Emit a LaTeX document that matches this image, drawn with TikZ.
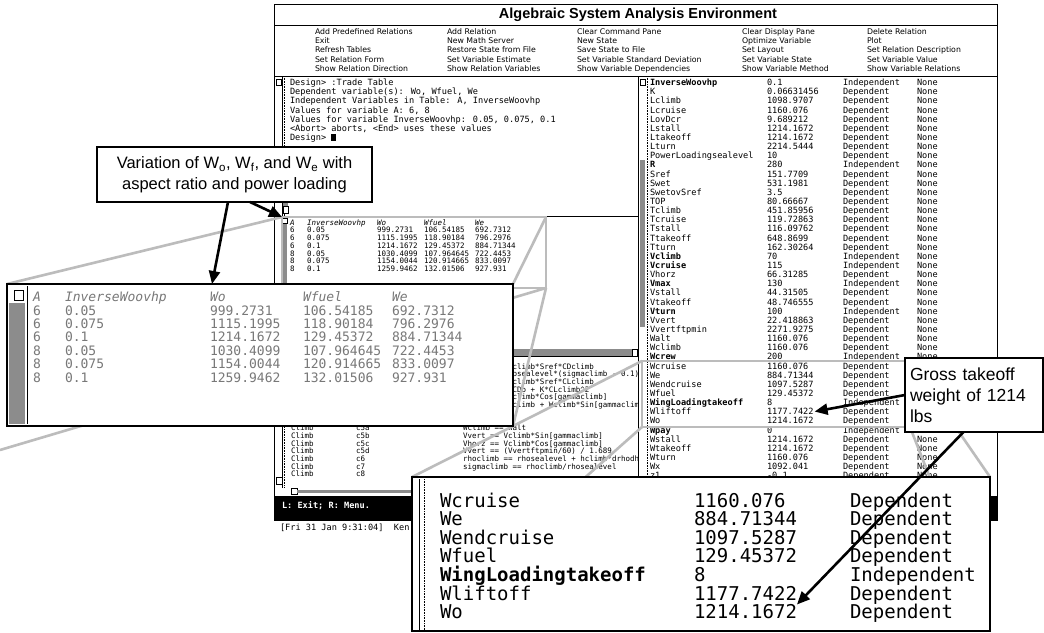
\documentclass[tikz,border=0pt]{standalone}
\usepackage{fontspec}
\setmainfont{Liberation Sans}
\newfontfamily\monofont{DejaVu Sans Mono}
\newfontfamily\uifont{DejaVu Sans}
\usetikzlibrary{arrows.meta}
\pgfdeclarelayer{winlayer}
\pgfdeclarelayer{guidelayer}
\pgfsetlayers{winlayer,guidelayer,main}

\definecolor{zoomgray}{RGB}{188,188,188}
\definecolor{thumbgray}{RGB}{140,140,140}
\definecolor{softtext}{RGB}{120,120,120}

% trade table results: A / InverseWoovhp / Wo / Wfuel / We
\def\tradedata{6/0.05/999.2731/106.54185/692.7312,
  6/0.075/1115.1995/118.90184/796.2976,
  6/0.1/1214.1672/129.45372/884.71344,
  8/0.05/1030.4099/107.964645/722.4453,
  8/0.075/1154.0044/120.914665/833.0097,
  8/0.1/1259.9462/132.01506/927.931}

\begin{document}
\begin{tikzpicture}[x=1pt,y=-1pt,
  every node/.style={inner sep=0pt,outer sep=0pt},
  winline/.style={draw=black,line width=0.9pt},
  thinline/.style={draw=black,line width=0.5pt},
  dotline/.style={draw=black,line width=0.4pt,dash pattern=on 0.8pt off 0.8pt},
  menuitem/.style={anchor=base west,font=\uifont\fontsize{7.8}{8}\selectfont},
  panetext/.style={anchor=base west,font=\monofont\fontsize{8.6}{9}\selectfont},
  smalltext/.style={anchor=base west,font=\monofont\fontsize{7.5}{8}\selectfont},
  smallhead/.style={anchor=base west,font=\monofont\itshape\fontsize{7.5}{8}\selectfont},
  magtable/.style={anchor=base west,font=\monofont\fontsize{13}{14}\selectfont,text=softtext},
  maghead/.style={anchor=base west,font=\monofont\itshape\fontsize{13}{14}\selectfont,text=softtext},
  magvars/.style={anchor=base west,font=\monofont\fontsize{19}{20}\selectfont},
  thumb/.style={fill=thumbgray},
  checkbox/.style={draw=black,line width=0.5pt,fill=white},
  zoomframe/.style={draw=zoomgray,line width=2.6pt},
  magbox/.style={draw=black,line width=2.6pt,fill=white},
  callout/.style={draw=black,line width=2pt,fill=white},
  pointer/.style={draw=black,line width=2.6pt,-{Triangle[length=13pt,width=11pt]}},
]
\useasboundingbox (0,0) rectangle (1044,632);

\begin{pgfonlayer}{winlayer}
\fill[white] (0,0) rectangle (1044,632);
% ---------- application window ----------
\draw[winline,fill=white] (274,4) rectangle (997,520);
\node[font=\bfseries\fontsize{14.5}{16}\selectfont] (title) at (638,15) {Algebraic System Analysis Environment};
\draw[winline] (274,25) -- (997,25);

% menu
\foreach \t [count=\i from 0] in {Add Predefined Relations,Exit,Refresh Tables,Set Relation Form,Show Relation Direction}
  \node[menuitem] (mA\i) at (315,34.5+9.2*\i) {\t};
\foreach \t [count=\i from 0] in {Add Relation,New Math Server,Restore State from File,Set Variable Estimate,Show Relation Variables}
  \node[menuitem] (mB\i) at (447,34.5+9.2*\i) {\t};
\foreach \t [count=\i from 0] in {Clear Command Pane,New State,Save State to File,Set Variable Standard Deviation,Show Variable Dependencies}
  \node[menuitem] (mC\i) at (577,34.5+9.2*\i) {\t};
\foreach \t [count=\i from 0] in {Clear Display Pane,Optimize Variable,Set Layout,Set Variable State,Show Variable Method}
  \node[menuitem] (mD\i) at (742,34.5+9.2*\i) {\t};
\foreach \t [count=\i from 0] in {Delete Relation,Plot,Set Relation Description,Set Variable Value,Show Variable Relations}
  \node[menuitem] (mE\i) at (867,34.5+9.2*\i) {\t};
\draw[winline] (274,76) -- (997,76);
\draw[winline] (638,76) -- (638,496);

% command pane
\draw[checkbox] (276,79) rectangle (281,85);
\draw[thinline] (282,76) -- (282,216);
\draw[dotline] (284.5,76) -- (284.5,216);
\foreach \t [count=\i from 0] in {{Design> :Trade Table},{Dependent variable(s): Wo, Wfuel, We},{Independent Variables in Table: A, InverseWoovhp},{Values for variable A: 6, 8},{Values for variable InverseWoovhp: 0.05, 0.075, 0.1},{<Abort> aborts, <End> uses these values}}
  \node[panetext] (cmd\i) at (290,85.7+9.14*\i) {\t};
\node[panetext] (cmd6) at (290,85.7+9.14*6) {Design> \rule{4.6pt}{7pt}};
\fill[thumb] (283,199) rectangle (288,206);
\draw[checkbox] (283,206) rectangle (288,213);
\draw[winline] (274,216) -- (638,216);

% table pane
\draw[checkbox] (282,218) rectangle (287,223);
\fill[thumb] (282,224) rectangle (287,284);
\node[smallhead] (thA) at (290,225.6) {A};
\node[smallhead] (thB) at (307,225.6) {InverseWoovhp};
\node[smallhead] (thC) at (377,225.6) {Wo};
\node[smallhead] (thD) at (424,225.6) {Wfuel};
\node[smallhead] (thE) at (475,225.6) {We};
\foreach \va/\vb/\vc/\vd/\ve [count=\i from 0] in \tradedata {
  \node[smalltext] (ta\i) at (290,232.6+7.8*\i) {\va};
  \node[smalltext] (tb\i) at (307,232.6+7.8*\i) {\vb};
  \node[smalltext] (tc\i) at (377,232.6+7.8*\i) {\vc};
  \node[smalltext] (td\i) at (424,232.6+7.8*\i) {\vd};
  \node[smalltext] (te\i) at (475,232.6+7.8*\i) {\ve};
}
\fill[thumb] (283,349) rectangle (632,356);
\draw[checkbox] (632,349) rectangle (637.5,356);
\draw[thinline] (274,356.5) -- (638,356.5);

% relations pane
\draw[thinline] (282,357) -- (282,488);
\draw[dotline] (284.5,357) -- (284.5,488);
\begin{scope}
  \clip (274,357) rectangle (637.5,488);
  \node[smalltext] (rel0) at (463,369.0) {Dclimb == qclimb*Sref*CDclimb};
  \node[smalltext] (rel1) at (463,376.7) {Pclimb == hpsealevel*(sigmaclimb - 0.1)};
  \node[smalltext] (rel2) at (463,384.4) {Lclimb == qclimb*Sref*CLclimb};
  \node[smalltext] (rel3) at (463,392.1) {CDclimb == CDo + K*CLclimb\^{}2};
  \node[smalltext] (rel4) at (463,399.8) {Lclimb == Wclimb*Cos[gammaclimb]};
  \node[smalltext] (rel5) at (463,407.5) {Tclimb == Dclimb + Wclimb*Sin[gammaclimb]};
  \foreach \cn/\fm [count=\i from 0] in {c5a/{Wclimb == Walt},c5b/{Vvert == Vclimb*Sin[gammaclimb]},c5c/{Vhorz == Vclimb*Cos[gammaclimb]},c5d/{Vvert == (Vvertftpmin/60) / 1.689},c6/{rhoclimb == rhosealevel + hclimb*drhodh},c7/{sigmaclimb == rhoclimb/rhosealevel}} {
    \node[smalltext] (cl\i) at (291,430.6+7.7*\i) {Climb};
    \node[smalltext] (cc\i) at (356,430.6+7.7*\i) {\cn};
    \node[smalltext] (cf\i) at (463,430.6+7.7*\i) {\fm};
  }
  \node[smalltext] (cl6) at (291,430.6+7.7*6) {Climb};
  \node[smalltext] (cc6) at (356,430.6+7.7*6) {c8};
\end{scope}
\draw[checkbox] (276,477) rectangle (282,484);
\draw[checkbox] (291,488) rectangle (297,494);
\fill[thumb] (297,489.5) rectangle (430,493);

% status bar and clock line
\fill[black] (274,496) rectangle (997,520);
\node[anchor=base west,font=\monofont\bfseries\fontsize{8.6}{9}\selectfont,text=white] (hint) at (282,508) {L: Exit; R: Menu.};
\node[panetext] (clock) at (280,530) {[Fri 31 Jan 9:31:04]\ \ Ken};

% variable display pane
\draw[checkbox] (640,79) rectangle (645,85);
\fill[thumb] (640,160) rectangle (645,327);
\draw[dotline] (647,76) -- (647,496);
\foreach \nm/\vl/\sta/\bw [count=\i from 0] in {
  InverseWoovhp/0.1/Independent/1, K/0.06631456/Dependent/0, Lclimb/1098.9707/Dependent/0,
  Lcruise/1160.076/Dependent/0, LovDcr/9.689212/Dependent/0, Lstall/1214.1672/Dependent/0,
  Ltakeoff/1214.1672/Dependent/0, Lturn/2214.5444/Dependent/0, PowerLoadingsealevel/10/Dependent/0,
  R/280/Independent/1, Sref/151.7709/Dependent/0, Swet/531.1981/Dependent/0,
  SwetovSref/3.5/Dependent/0, TOP/80.66667/Dependent/0, Tclimb/451.85956/Dependent/0,
  Tcruise/119.72863/Dependent/0, Tstall/116.09762/Dependent/0, Ttakeoff/648.8699/Dependent/0,
  Tturn/162.30264/Dependent/0, Vclimb/70/Independent/1, Vcruise/115/Independent/1,
  Vhorz/66.31285/Dependent/0, Vmax/130/Independent/1, Vstall/44.31505/Dependent/0,
  Vtakeoff/48.746555/Dependent/0, Vturn/100/Independent/1, Vvert/22.418863/Dependent/0,
  Vvertftpmin/2271.9275/Dependent/0, Walt/1160.076/Dependent/0, Wclimb/1160.076/Dependent/0,
  Wcrew/200/Independent/1, Wcruise/1160.076/Dependent/0, We/884.71344/Dependent/0,
  Wendcruise/1097.5287/Dependent/0, Wfuel/129.45372/Dependent/0, WingLoadingtakeoff/8/Independent/1,
  Wliftoff/1177.7422/Dependent/0, Wo/1214.1672/Dependent/0, Wpay/0/Independent/1,
  Wstall/1214.1672/Dependent/0, Wtakeoff/1214.1672/Dependent/0, Wturn/1160.076/Dependent/0,
  Wx/1092.041/Dependent/0, z1/-0.1/Dependent/0} {
  \node[panetext] (rn\i) at (650,85.7+9.14*\i) {\ifnum\bw=1 \bfseries\fi\nm};
  \node[panetext] (rv\i) at (767,85.7+9.14*\i) {\vl};
  \node[panetext] (rs\i) at (843,85.7+9.14*\i) {\sta};
  \ifnum\i<31 \node[panetext] (rx\i) at (917,85.7+9.14*\i) {None};\fi
  \ifnum\i>38 \node[panetext] (rx\i) at (917,85.7+9.14*\i) {None};\fi
}
\end{pgfonlayer}

% ---------- magnified table ----------
\node[magbox,anchor=north west,minimum width=506pt,minimum height=142pt] (lmag) at (7,284) {};
\draw[checkbox] (14,290) rectangle (23,300);
\fill[thumb] (9,303) rectangle (25,424);
\draw[thinline] (27.5,286) -- (27.5,424);
\node[maghead] (mhA) at (33,301.5) {A};
\node[maghead] (mhB) at (65,301.5) {InverseWoovhp};
\node[maghead] (mhC) at (210,301.5) {Wo};
\node[maghead] (mhD) at (303,301.5) {Wfuel};
\node[maghead] (mhE) at (392,301.5) {We};
\foreach \va/\vb/\vc/\vd/\ve [count=\i from 0] in \tradedata {
  \node[magtable] (ma\i) at (33,315+13.4*\i) {\va};
  \node[magtable] (mb\i) at (65,315+13.4*\i) {\vb};
  \node[magtable] (mc\i) at (210,315+13.4*\i) {\vc};
  \node[magtable] (md\i) at (303,315+13.4*\i) {\vd};
  \node[magtable] (me\i) at (392,315+13.4*\i) {\ve};
}

% ---------- magnified weight variables ----------
\node[magbox,anchor=north west,minimum width=578pt,minimum height=154pt] (rmag) at (412,477) {};
\draw[thinline] (419,479) -- (419,630);
\draw[dotline] (424,479) -- (424,630);
\foreach \nm/\vl/\sta/\bw [count=\i from 0] in {Wcruise/1160.076/Dependent/0, We/884.71344/Dependent/0,
  Wendcruise/1097.5287/Dependent/0, Wfuel/129.45372/Dependent/0, WingLoadingtakeoff/8/Independent/1,
  Wliftoff/1177.7422/Dependent/0, Wo/1214.1672/Dependent/0} {
  \node[magvars] (bn\i) at (440,507+18.6*\i) {\ifnum\bw=1 \bfseries\fi\nm};
  \node[magvars] (bv\i) at (694,507+18.6*\i) {\vl};
  \node[magvars] (bs\i) at (850,507+18.6*\i) {\sta};
}

% ---------- zoom guides ----------
\begin{pgfonlayer}{guidelayer}
  \node[zoomframe,anchor=north west,minimum width=264pt,minimum height=71pt] (lsel) at (282,217) {};
  \coordinate (lfar) at (0,450);
  \draw[zoomframe] (lsel.north west) -- (lmag.north west);
  \draw[zoomframe] (lsel.north east) -- (lmag.north east);
  \draw[zoomframe] (lsel.south east) -- (lmag.south east);
  \draw[zoomframe] (lsel.south east) -- (lfar);
  \node[zoomframe,anchor=north west,minimum width=268pt,minimum height=66pt] (rsel) at (642,361) {};
  \draw[zoomframe] (rsel.north west) -- (rmag.north west);
  \draw[zoomframe] (rsel.north east) -- (rmag.north east);
  \draw[zoomframe] (rsel.south east) -- (rmag.south east);
  \draw[zoomframe] (rsel.south west) -- (rmag.south west);
\end{pgfonlayer}

% ---------- callouts ----------
\node[callout,minimum width=275pt,minimum height=55pt,align=center,font=\fontsize{16.5}{20.5}\selectfont] (note1) at (234.5,174.5)
  {Variation of W\textsubscript{o}, W\textsubscript{f}, and W\textsubscript{e} with\\aspect ratio and power loading};
\node[callout,anchor=north west,text width=128pt,minimum height=74pt,align=left,inner xsep=5pt,font=\fontsize{17.5}{21}\selectfont] (note2) at (905,358)
  {Gross takeoff\\weight of 1214\\lbs};

\draw[pointer] ([xshift=-6.5pt]note1.south) -- ([xshift=-22.5pt]lmag.north -| note1.south);
\draw[pointer] ([xshift=15.5pt]note1.south) -- (lsel.north west);
\draw[pointer] (note2.west) -- ([xshift=1pt]rv36.east);
\draw[pointer] ([xshift=-10.5pt]note2.south) -- (bv6.north east);
\end{tikzpicture}
\end{document}
